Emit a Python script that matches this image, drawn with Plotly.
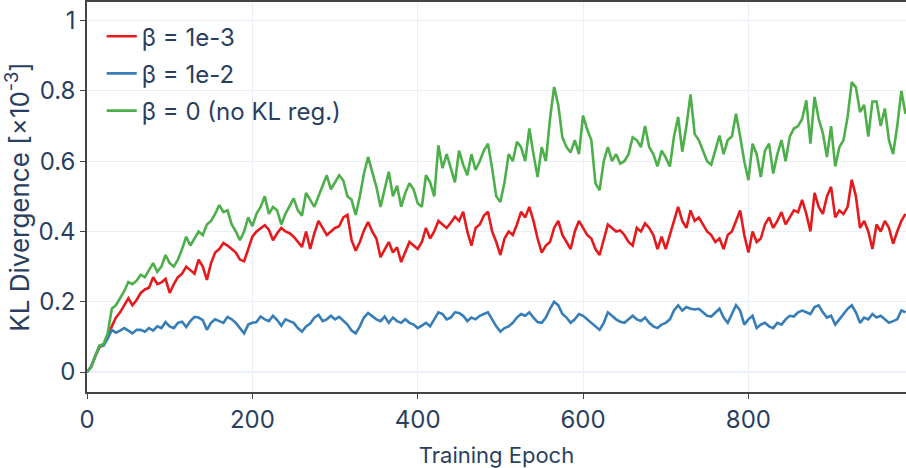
import plotly.graph_objects as go

epochs = list(range(0, 995, 5))

kl_beta_1e3 = [
    0.0, 0.015, 0.045, 0.07, 0.078, 0.1, 0.13, 0.155, 0.17, 0.19,
    0.21, 0.19, 0.205, 0.225, 0.235, 0.24, 0.27, 0.25, 0.255, 0.265,
    0.225, 0.25, 0.27, 0.28, 0.3, 0.29, 0.28, 0.32, 0.3, 0.262,
    0.31, 0.34, 0.35, 0.367, 0.36, 0.35, 0.34, 0.32, 0.315, 0.35,
    0.385, 0.4, 0.41, 0.418, 0.405, 0.375, 0.395, 0.41, 0.4, 0.395,
    0.385, 0.37, 0.356, 0.4, 0.35, 0.395, 0.43, 0.41, 0.39, 0.4,
    0.41, 0.415, 0.44, 0.447, 0.375, 0.345, 0.37, 0.403, 0.427, 0.4,
    0.38, 0.327, 0.35, 0.37, 0.34, 0.355, 0.313, 0.34, 0.37, 0.36,
    0.35, 0.37, 0.41, 0.38, 0.4, 0.43, 0.42, 0.41, 0.425, 0.442,
    0.43, 0.456, 0.4, 0.36, 0.41, 0.42, 0.445, 0.456, 0.4, 0.37,
    0.333, 0.38, 0.4, 0.39, 0.42, 0.456, 0.44, 0.47, 0.43, 0.38,
    0.34, 0.36, 0.37, 0.41, 0.43, 0.39, 0.37, 0.35, 0.4, 0.43,
    0.41, 0.39, 0.38, 0.35, 0.333, 0.38, 0.42, 0.41, 0.4, 0.403,
    0.39, 0.37, 0.36, 0.41, 0.4, 0.423, 0.41, 0.39, 0.35, 0.385,
    0.35, 0.39, 0.43, 0.47, 0.43, 0.41, 0.46, 0.43, 0.44, 0.42,
    0.4, 0.39, 0.37, 0.38, 0.35, 0.39, 0.4, 0.43, 0.46, 0.39,
    0.34, 0.4, 0.37, 0.38, 0.42, 0.44, 0.41, 0.43, 0.455, 0.42,
    0.44, 0.46, 0.455, 0.49, 0.45, 0.4, 0.51, 0.47, 0.45, 0.5,
    0.527, 0.44, 0.46, 0.45, 0.47, 0.547, 0.5, 0.41, 0.43, 0.4,
    0.35, 0.42, 0.4, 0.43, 0.41, 0.365, 0.4, 0.43, 0.45,
]

kl_beta_1e2 = [
    0.0, 0.015, 0.045, 0.075, 0.075, 0.095, 0.12, 0.112, 0.118, 0.125,
    0.118, 0.11, 0.12, 0.12, 0.115, 0.125, 0.118, 0.13, 0.125, 0.142,
    0.13, 0.125, 0.14, 0.143, 0.128, 0.145, 0.157, 0.155, 0.148, 0.12,
    0.14, 0.15, 0.145, 0.14, 0.157, 0.15, 0.14, 0.125, 0.11, 0.135,
    0.14, 0.142, 0.158, 0.15, 0.145, 0.16, 0.148, 0.132, 0.15, 0.145,
    0.14, 0.125, 0.115, 0.13, 0.138, 0.155, 0.163, 0.145, 0.15, 0.16,
    0.15, 0.157, 0.145, 0.135, 0.118, 0.11, 0.13, 0.155, 0.168, 0.16,
    0.15, 0.145, 0.158, 0.14, 0.155, 0.145, 0.14, 0.15, 0.14, 0.135,
    0.125, 0.132, 0.14, 0.13, 0.15, 0.17, 0.165, 0.15, 0.155, 0.17,
    0.168, 0.16, 0.145, 0.155, 0.15, 0.16, 0.165, 0.17, 0.15, 0.13,
    0.115, 0.125, 0.13, 0.14, 0.155, 0.165, 0.16, 0.17, 0.155, 0.142,
    0.14, 0.155, 0.18, 0.2, 0.19, 0.165, 0.155, 0.14, 0.15, 0.165,
    0.16, 0.15, 0.14, 0.13, 0.12, 0.14, 0.17, 0.16, 0.15, 0.143,
    0.14, 0.15, 0.16, 0.15, 0.145, 0.155, 0.14, 0.13, 0.125, 0.135,
    0.14, 0.15, 0.175, 0.19, 0.175, 0.185, 0.18, 0.178, 0.18, 0.17,
    0.16, 0.158, 0.17, 0.18, 0.155, 0.14, 0.165, 0.19, 0.175, 0.135,
    0.15, 0.16, 0.125, 0.135, 0.14, 0.13, 0.125, 0.14, 0.135, 0.15,
    0.16, 0.158, 0.17, 0.175, 0.17, 0.165, 0.185, 0.19, 0.17, 0.155,
    0.16, 0.135, 0.15, 0.165, 0.18, 0.19, 0.17, 0.14, 0.155, 0.15,
    0.165, 0.155, 0.16, 0.15, 0.14, 0.145, 0.15, 0.175, 0.17,
]

kl_beta_0 = [
    0.0, 0.015, 0.045, 0.075, 0.08, 0.11, 0.18, 0.19, 0.21, 0.23,
    0.256, 0.25, 0.26, 0.277, 0.27, 0.29, 0.31, 0.285, 0.3, 0.333,
    0.31, 0.3, 0.32, 0.35, 0.385, 0.36, 0.38, 0.4, 0.39, 0.42,
    0.43, 0.45, 0.475, 0.455, 0.46, 0.42, 0.4, 0.375, 0.4, 0.44,
    0.415, 0.45, 0.47, 0.5, 0.45, 0.47, 0.46, 0.42, 0.45, 0.47,
    0.494, 0.46, 0.445, 0.51, 0.49, 0.47, 0.5, 0.53, 0.56, 0.52,
    0.54, 0.56, 0.545, 0.5, 0.49, 0.447, 0.5, 0.565, 0.612, 0.573,
    0.527, 0.47, 0.52, 0.57, 0.5, 0.53, 0.47, 0.51, 0.537, 0.52,
    0.48, 0.47, 0.56, 0.54, 0.5, 0.645, 0.58, 0.62, 0.58, 0.54,
    0.63, 0.59, 0.56, 0.62, 0.575, 0.6, 0.63, 0.65, 0.58, 0.5,
    0.484, 0.54, 0.62, 0.6, 0.655, 0.64, 0.6, 0.693, 0.62, 0.555,
    0.64, 0.6, 0.72, 0.811, 0.76, 0.668, 0.64, 0.625, 0.66, 0.62,
    0.73, 0.69, 0.66, 0.537, 0.517, 0.6, 0.64, 0.6, 0.62, 0.593,
    0.6, 0.62, 0.668, 0.66, 0.64, 0.7, 0.64, 0.62, 0.585, 0.63,
    0.61, 0.585, 0.67, 0.726, 0.627, 0.7, 0.79, 0.677, 0.66, 0.63,
    0.6, 0.59, 0.63, 0.673, 0.62, 0.66, 0.67, 0.735, 0.67, 0.6,
    0.546, 0.65, 0.62, 0.555, 0.63, 0.65, 0.565, 0.62, 0.66, 0.6,
    0.67, 0.693, 0.7, 0.72, 0.773, 0.65, 0.783, 0.72, 0.68, 0.612,
    0.7, 0.585, 0.64, 0.66, 0.726, 0.825, 0.81, 0.74, 0.76, 0.67,
    0.77, 0.77, 0.7, 0.75, 0.66, 0.62, 0.7, 0.8, 0.735,
]

series_names = ["β = 1e-3", "β = 1e-2", "β = 0 (no KL reg.)"]
series_colors = ["#e41a1c", "#377eb8", "#4daf4a"]
series_values = [kl_beta_1e3, kl_beta_1e2, kl_beta_0]

y_tick_vals = [0, 0.2, 0.4, 0.6, 0.8, 1.0]
y_tick_text = ["0", "0.2", "0.4", "0.6", "0.8", "1"]
x_tick_vals = [0, 200, 400, 600, 800]

FONT = "Inter, Roboto, sans-serif"
TXT = "#2a3f5f"

fig = go.Figure()
for i, (name, color, vals) in enumerate(zip(series_names, series_colors, series_values)):
    n = min(len(epochs), len(vals))
    fig.add_trace(go.Scatter(
        x=epochs[:n], y=vals[:n], mode="lines", name=name,
        legendgroup=f"g{i}",
        line=dict(color=color, width=2.6),
    ))

fig.update_layout(
    width=906, height=468,
    margin=dict(l=87, r=0, t=2, b=76),
    paper_bgcolor="white", plot_bgcolor="white",
    font=dict(family=FONT, color=TXT, size=24),
    showlegend=True,
    legend=dict(
        x=0.018, y=0.969, xanchor="left", yanchor="top",
        bgcolor="rgba(255,255,255,0)", font=dict(size=24, family=FONT, color=TXT),
        tracegroupgap=3,
    ),
    xaxis=dict(
        range=[0, 990.6], tickvals=x_tick_vals, ticks="outside", ticklen=5,
        tickcolor="#444", showline=True, linecolor="#444", linewidth=1.5,
        mirror=True, showgrid=True, gridcolor="#EBF0F8", gridwidth=1,
        zeroline=False, tickfont=dict(size=24), automargin=False,
        title=dict(text="Training Epoch", font=dict(size=22), standoff=16),
    ),
    yaxis=dict(
        range=[-0.0568, 1.053], tickvals=y_tick_vals, ticktext=y_tick_text,
        ticks="outside", ticklen=5, tickcolor="#444", automargin=False,
        showline=True, linecolor="#444", linewidth=1.5, mirror=False,
        showgrid=True, gridcolor="#EBF0F8", gridwidth=1,
        zeroline=True, zerolinecolor="#EBF0F8", zerolinewidth=2,
        tickfont=dict(size=24),
        title=dict(text="KL Divergence [×10<sup>-3</sup>]", font=dict(size=26), standoff=8),
    ),
)

fig.write_html(
    "out.html",
    config={"displayModeBar": False},
    post_script="document.body.style.margin='0px'; document.body.style.overflow='hidden';",
)
